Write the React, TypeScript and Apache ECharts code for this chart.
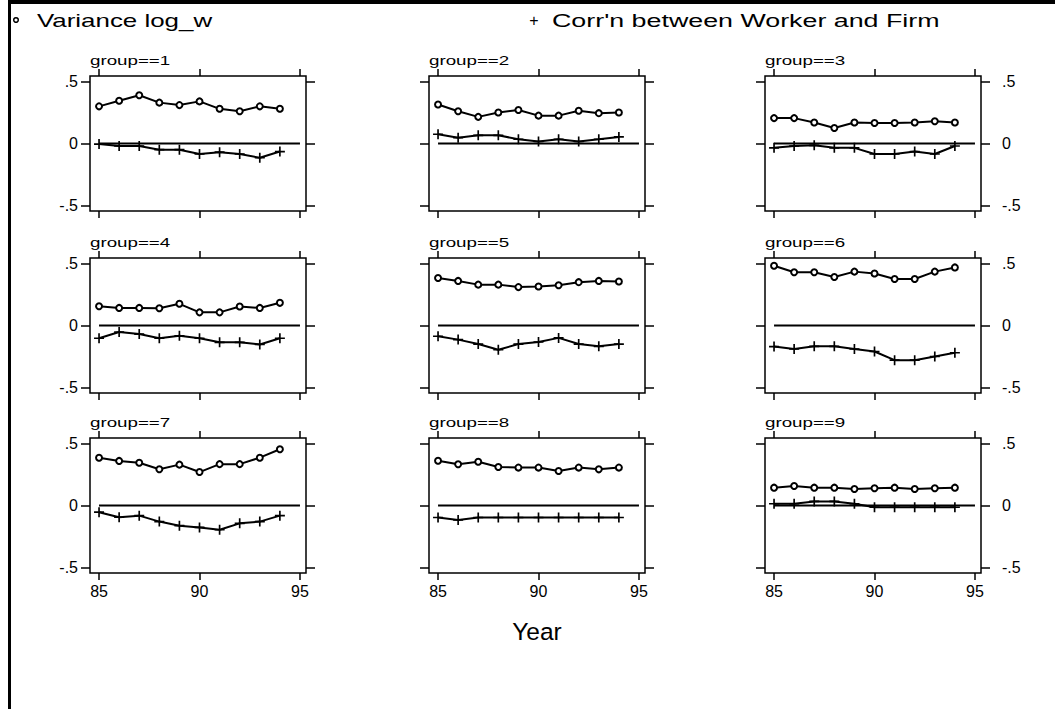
import React, { useEffect, useRef } from "react";
import * as echarts from "echarts";

const FONT = "'Liberation Sans', Arial, Helvetica, sans-serif";

const years = [85, 86, 87, 88, 89, 90, 91, 92, 93, 94];
const groupNames = [
  "group==1", "group==2", "group==3",
  "group==4", "group==5", "group==6",
  "group==7", "group==8", "group==9",
];
const xTicks = [85, 90, 95];
const yTicks = [-0.5, 0, 0.5];
const zeroLine = [85, 95];
const legendVariance = "Variance log_w";
const legendCorr = "Corr'n between Worker and Firm";
const xTitle = "Year";

const varianceG1 = [0.3, 0.345, 0.39, 0.33, 0.31, 0.34, 0.28, 0.26, 0.3, 0.28];
const corrG1 = [-0.005, -0.02, -0.02, -0.05, -0.05, -0.085, -0.07, -0.085, -0.115, -0.065];
const varianceG2 = [0.315, 0.26, 0.215, 0.25, 0.27, 0.225, 0.225, 0.265, 0.245, 0.25];
const corrG2 = [0.075, 0.047, 0.066, 0.066, 0.034, 0.016, 0.034, 0.016, 0.034, 0.053];
const varianceG3 = [0.205, 0.205, 0.17, 0.125, 0.17, 0.165, 0.165, 0.17, 0.18, 0.17];
const corrG3 = [-0.035, -0.02, -0.015, -0.035, -0.035, -0.085, -0.085, -0.065, -0.085, -0.02];
const varianceG4 = [0.155, 0.142, 0.142, 0.139, 0.175, 0.106, 0.106, 0.153, 0.142, 0.183];
const corrG4 = [-0.103, -0.053, -0.069, -0.103, -0.083, -0.103, -0.136, -0.136, -0.153, -0.103];
const varianceG5 = [0.383, 0.36, 0.33, 0.33, 0.31, 0.315, 0.325, 0.35, 0.36, 0.355];
const corrG5 = [-0.087, -0.114, -0.15, -0.196, -0.15, -0.133, -0.1, -0.15, -0.168, -0.15];
const varianceG6 = [0.483, 0.43, 0.43, 0.392, 0.435, 0.42, 0.375, 0.375, 0.435, 0.469];
const corrG6 = [-0.17, -0.19, -0.168, -0.168, -0.19, -0.21, -0.28, -0.28, -0.25, -0.22];
const varianceG7 = [0.386, 0.36, 0.345, 0.293, 0.33, 0.27, 0.334, 0.334, 0.386, 0.454];
const corrG7 = [-0.054, -0.095, -0.082, -0.13, -0.163, -0.177, -0.196, -0.144, -0.13, -0.082];
const varianceG8 = [0.361, 0.333, 0.353, 0.311, 0.306, 0.306, 0.278, 0.306, 0.292, 0.306];
const corrG8 = [-0.097, -0.117, -0.097, -0.097, -0.097, -0.097, -0.097, -0.097, -0.097, -0.097];
const varianceG9 = [0.144, 0.158, 0.144, 0.144, 0.133, 0.139, 0.144, 0.133, 0.139, 0.144];
const corrG9 = [0.014, 0.014, 0.033, 0.033, 0.014, -0.014, -0.014, -0.014, -0.014, -0.014];

const varianceAll = [varianceG1, varianceG2, varianceG3, varianceG4, varianceG5, varianceG6, varianceG7, varianceG8, varianceG9];
const corrAll = [corrG1, corrG2, corrG3, corrG4, corrG5, corrG6, corrG7, corrG8, corrG9];

const PLUS = "path://M-1,-6 h2 v12 h-2 z M-6,-1 h12 v2 h-12 z";

export default function App() {
  const ref = useRef<HTMLDivElement>(null);
  useEffect(() => {
    const chart = echarts.init(ref.current!, null, { renderer: "svg" });
    const colLeft = [90, 429, 765];
    const rowTop = [76, 258, 438];
    const W = 216;
    const H = 135;
    const grids: any[] = [];
    const xAxes: any[] = [];
    const yAxes: any[] = [];
    const series: any[] = [];
    const graphics: any[] = [];
    const tickStyle = { color: "#000", width: 1.5 };
    const labelStyle = { color: "#000", fontSize: 16, fontFamily: FONT };
    const yFmt = (v: number) => (v === 0 ? "0" : String(v).replace("0.", "."));

    for (let i = 0; i < 9; i++) {
      const r = Math.floor(i / 3);
      const c = i % 3;
      grids.push({
        left: colLeft[c], top: rowTop[r], width: W, height: H,
        show: true, borderColor: "#000", borderWidth: 1.5, backgroundColor: "transparent",
      });
      const xBase = (pos: string, showLabel: boolean) => ({
        type: "value", gridIndex: i, position: pos, min: 84.55, max: 95.3,
        axisLine: { show: false, onZero: false }, splitLine: { show: false },
        axisTick: { show: true, inside: false, length: 7, customValues: xTicks, lineStyle: tickStyle },
        axisLabel: { show: showLabel, customValues: xTicks, margin: 10, ...labelStyle },
      });
      xAxes.push(xBase("bottom", r === 2));
      xAxes.push(xBase("top", false));
      const yBase = (pos: string, showLabel: boolean, margin: number, len: number) => ({
        type: "value", gridIndex: i, position: pos, min: -0.545, max: 0.545,
        axisLine: { show: false, onZero: false }, splitLine: { show: false },
        axisTick: { show: true, inside: false, length: len, customValues: yTicks, lineStyle: tickStyle },
        axisLabel: { show: showLabel, customValues: yTicks, margin, formatter: yFmt, ...labelStyle },
      });
      yAxes.push(yBase("left", c === 0, 12, 9));
      yAxes.push(yBase("right", c === 2, 21, 9));

      series.push({
        type: "line", xAxisIndex: 2 * i, yAxisIndex: 2 * i, silent: true,
        data: zeroLine.map((x) => [x, 0]), symbol: "none",
        lineStyle: { color: "#000", width: 2 },
      });
      series.push({
        type: "line", name: legendVariance, xAxisIndex: 2 * i, yAxisIndex: 2 * i,
        data: years.map((y, k) => [y, varianceAll[i][k]]),
        symbol: "emptyCircle", symbolSize: 6,
        lineStyle: { color: "#000", width: 2 },
        itemStyle: { color: "#000", borderColor: "#000", borderWidth: 1.5 },
      });
      series.push({
        type: "line", name: legendCorr, xAxisIndex: 2 * i, yAxisIndex: 2 * i,
        data: years.map((y, k) => [y, corrAll[i][k]]),
        symbol: PLUS, symbolSize: 10,
        lineStyle: { color: "#000", width: 2 },
        itemStyle: { color: "#000" },
      });

      graphics.push({
        type: "text", x: colLeft[c], y: rowTop[r] - 15, scaleX: 1.5,
        style: { text: groupNames[i], fontSize: 12.5, fontFamily: FONT, fill: "#000", textAlign: "left", textVerticalAlign: "middle" },
      });
    }

    graphics.push({ type: "rect", shape: { x: 8, y: 0, width: 1047, height: 4 }, style: { fill: "#000" } });
    graphics.push({ type: "rect", shape: { x: 8, y: 0, width: 3, height: 709 }, style: { fill: "#000" } });
    graphics.push({ type: "circle", shape: { cx: 16, cy: 20, r: 2.3 }, style: { fill: "none", stroke: "#000", lineWidth: 1.5 } });
    graphics.push({
      type: "text", x: 37, y: 21, scaleX: 1.4,
      style: { text: legendVariance, fontSize: 18.5, fontFamily: FONT, fill: "#000", textAlign: "left", textVerticalAlign: "middle" },
    });
    graphics.push({
      type: "text", x: 534, y: 20,
      style: { text: "+", fontSize: 16, fontFamily: FONT, fill: "#000", textAlign: "center", textVerticalAlign: "middle" },
    });
    graphics.push({
      type: "text", x: 552, y: 21, scaleX: 1.45,
      style: { text: legendCorr, fontSize: 18.5, fontFamily: FONT, fill: "#000", textAlign: "left", textVerticalAlign: "middle" },
    });
    graphics.push({
      type: "text", x: 537, y: 631,
      style: { text: xTitle, fontSize: 24.5, fontFamily: FONT, fill: "#000", textAlign: "center", textVerticalAlign: "middle" },
    });

    chart.setOption({
      animation: false,
      backgroundColor: "#fff",
      grid: grids,
      xAxis: xAxes,
      yAxis: yAxes,
      series,
      graphic: graphics,
    });
    return () => chart.dispose();
  }, []);
  return (
    <div
      ref={ref}
      style={{ position: "absolute", left: 0, top: 0, width: 1055, height: 709, background: "#fff" }}
    />
  );
}
